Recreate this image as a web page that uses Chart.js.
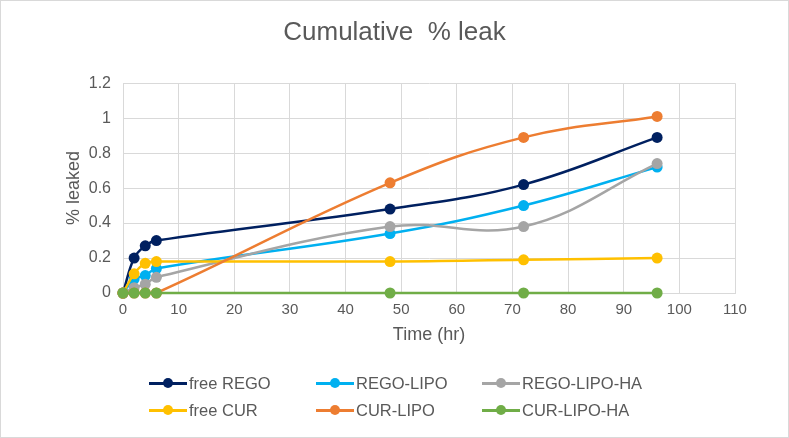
<!DOCTYPE html>
<html>
<head>
<meta charset="utf-8">
<script src="https://cdn.jsdelivr.net/npm/chart.js@4.4.1/dist/chart.umd.min.js"></script>
<style>
  body { margin: 0; background: #fff; font-family: "Liberation Sans", Arial, sans-serif; }
  #wrap { position: relative; width: 789px; height: 438px; }
  #frame { position: absolute; left: 0; top: 0; width: 787px; height: 436px; border: 1px solid #d9d9d9; pointer-events: none; }
  .item { position: absolute; display: flex; align-items: center; font-size: 16.5px; color: #595959; white-space: nowrap; }
  .sym { position: relative; width: 38px; height: 10px; margin-right: 2px; }
  .sym .ln { position: absolute; left: 0; right: 0; top: 3.5px; height: 3px; }
  .sym .dot { position: absolute; left: 14px; top: 0; width: 10px; height: 10px; border-radius: 50%; }
</style>
</head>
<body>
<div id="wrap">
  <canvas id="chart" width="789" height="438"></canvas>
  <div id="legend"></div>
  <div id="frame"></div>
</div>
<script>
// tiempos de muestreo (hr)
const hours = [0, 2, 4, 6, 48, 72, 96];

// % liberado por formulacion
const freeRego   = [0, 0.2, 0.27, 0.3, 0.48, 0.62, 0.89];
const regoLipo   = [0, 0.08, 0.1, 0.14, 0.34, 0.5, 0.72];
const regoLipoHa = [0, 0.03, 0.05, 0.09, 0.38, 0.38, 0.74];
const freeCur    = [0, 0.11, 0.17, 0.18, 0.18, 0.19, 0.2];
const curLipo    = [0, 0, 0, 0, 0.63, 0.89, 1.01];
const curLipoHa  = [0, 0, 0, 0, 0, 0, 0];

const seriesNames  = ['free REGO', 'REGO-LIPO', 'REGO-LIPO-HA', 'free CUR', 'CUR-LIPO', 'CUR-LIPO-HA'];
const seriesValues = [freeRego, regoLipo, regoLipoHa, freeCur, curLipo, curLipoHa];
const seriesColors = ['#002060', '#00B0F0', '#A5A5A5', '#FFC000', '#ED7D31', '#70AD47'];

const textColor = '#595959';
const gridColor = '#d9d9d9';
const fontFamily = '"Liberation Sans", Arial, sans-serif';

const datasets = seriesNames.map((name, i) => ({
    label: name,
    data: hours.map((h, j) => ({ x: h, y: seriesValues[i][j] })),
    borderColor: seriesColors[i],
    backgroundColor: seriesColors[i],
    pointBackgroundColor: seriesColors[i],
    pointBorderWidth: 0,
    pointRadius: 5.5,
    borderWidth: 2.5,
    tension: 0.4,
    clip: false,
    order: seriesNames.length - i   // las ultimas series quedan encima, como en Excel
}));

new Chart(document.getElementById('chart').getContext('2d'), {
    type: 'line',
    data: { datasets },
    options: {
        responsive: false,
        animation: false,
        layout: { padding: { left: 10, right: 10, top: 0, bottom: 85 } },
        plugins: {
            legend: { display: false },
            tooltip: { enabled: false },
            title: {
                display: true,
                text: 'Cumulative  % leak',
                color: textColor,
                font: { family: fontFamily, size: 26, weight: 'normal' },
                padding: { top: 17, bottom: 35 }
            }
        },
        scales: {
            x: {
                type: 'linear',
                min: 0,
                max: 110,
                ticks: { stepSize: 10, color: textColor, font: { family: fontFamily, size: 15 }, padding: 8 },
                grid: { color: gridColor, drawTicks: false },
                border: { color: gridColor },
                title: {
                    display: true,
                    text: 'Time (hr)',
                    color: textColor,
                    font: { family: fontFamily, size: 18 },
                    padding: { top: 4, bottom: 7 }
                },
                afterFit: scale => { scale.height = 60; }
            },
            y: {
                min: 0,
                max: 1.2,
                ticks: {
                    stepSize: 0.2,
                    color: textColor,
                    font: { family: fontFamily, size: 16 },
                    padding: 12,
                    callback: v => String(+v.toFixed(1))
                },
                grid: { color: gridColor, drawTicks: false },
                border: { color: gridColor },
                title: {
                    display: true,
                    text: '% leaked',
                    color: textColor,
                    font: { family: fontFamily, size: 18 },
                    padding: { top: 53, bottom: 0 }
                },
                afterFit: scale => { scale.width = 113; }
            },
            // eje vacio a la derecha solo para dejar margen y centrar el titulo
            yRight: {
                position: 'right',
                min: 0,
                max: 1.2,
                grid: { display: false, drawTicks: false },
                border: { display: false },
                ticks: { display: false },
                afterFit: scale => { scale.width = 44; }
            }
        }
    }
});

// leyenda en HTML, 3 columnas x 2 filas
const legendCols = [149, 316, 482];
const legendRows = [383, 410];
const legend = document.getElementById('legend');
seriesNames.forEach((name, i) => {
    const item = document.createElement('div');
    item.className = 'item';
    item.style.left = legendCols[i % 3] + 'px';
    item.style.top = (legendRows[Math.floor(i / 3)] - 10) + 'px';
    item.style.height = '20px';
    item.innerHTML = '<span class="sym"><span class="ln" style="background:' + seriesColors[i] +
        '"></span><span class="dot" style="background:' + seriesColors[i] + '"></span></span>' + name;
    legend.appendChild(item);
});
</script>
</body>
</html>
